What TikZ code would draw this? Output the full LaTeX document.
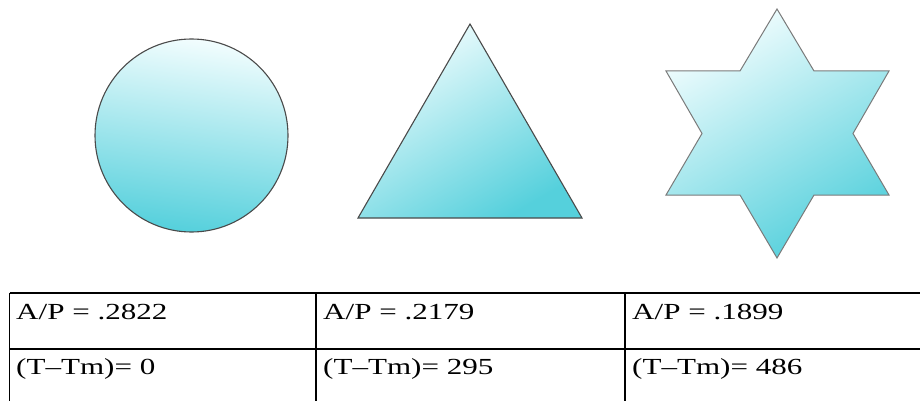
\documentclass[tikz,border=0pt]{standalone}
\usepackage{fontspec}
\setmainfont{Liberation Serif}
\begin{document}
\begin{tikzpicture}[x=1pt,y=-1pt,
  shapefill/.style={top color=cylight, bottom color=cydark},
  shapeline/.style={draw=shapegray, line width=1.1pt, line join=miter},
  starline/.style={draw=stargray, line width=1pt, line join=miter},
  tabline/.style={line width=1.4pt, draw=black},
  celltext/.style={anchor=base west, inner sep=0pt, font=\fontsize{23}{23}\selectfont}]
\definecolor{cylight}{HTML}{F2FDFE}
\definecolor{cydark}{HTML}{55D0DC}
\definecolor{shapegray}{HTML}{4A4A4A}
\definecolor{stargray}{HTML}{7A7A7A}
\useasboundingbox (0,0) rectangle (920,401);
\clip (0,0) rectangle (920,401);
% circle
\path[shapefill, shapeline, shading angle=-8] (191.5,135.5) circle[radius=96.5pt];
% triangle
\path[shapefill, shapeline, shading angle=30] (470,24) -- (582,218) -- (358,218) -- cycle;
% star
\path[shapefill, starline, shading angle=30]
  (777,9) -- (814,71) -- (889,71) -- (853,133.5) -- (889,195) -- (814,195)
  -- (777,258) -- (740,195) -- (666,195) -- (702,133.5) -- (666,71) -- (740,71) -- cycle;
% table
\coordinate (tl) at (9.5,293);
\coordinate (tr) at (925,293);
\coordinate (ml) at (9.5,349);
\coordinate (mr) at (925,349);
\coordinate (bl) at (9.5,410);
\coordinate (c1t) at (316,293);
\coordinate (c1b) at (316,410);
\coordinate (c2t) at (625,293);
\coordinate (c2b) at (625,410);
\draw[tabline] (tl) -- (tr);
\draw[tabline] (ml) -- (mr);
\draw[tabline] (tl) -- (bl);
\draw[tabline] (c1t) -- (c1b);
\draw[tabline] (c2t) -- (c2b);
\node[celltext] (a1) at (16,319) {\scalebox{1.35}[1]{A/P = .2822}};
\node[celltext] (a2) at (323,319) {\scalebox{1.35}[1]{A/P = .2179}};
\node[celltext] (a3) at (632,319) {\scalebox{1.35}[1]{A/P = .1899}};
\node[celltext] (b1) at (16,374) {\scalebox{1.35}[1]{(T–Tm)= 0}};
\node[celltext] (b2) at (323,374) {\scalebox{1.35}[1]{(T–Tm)= 295}};
\node[celltext] (b3) at (632,374) {\scalebox{1.35}[1]{(T–Tm)= 486}};
\end{tikzpicture}
\end{document}
